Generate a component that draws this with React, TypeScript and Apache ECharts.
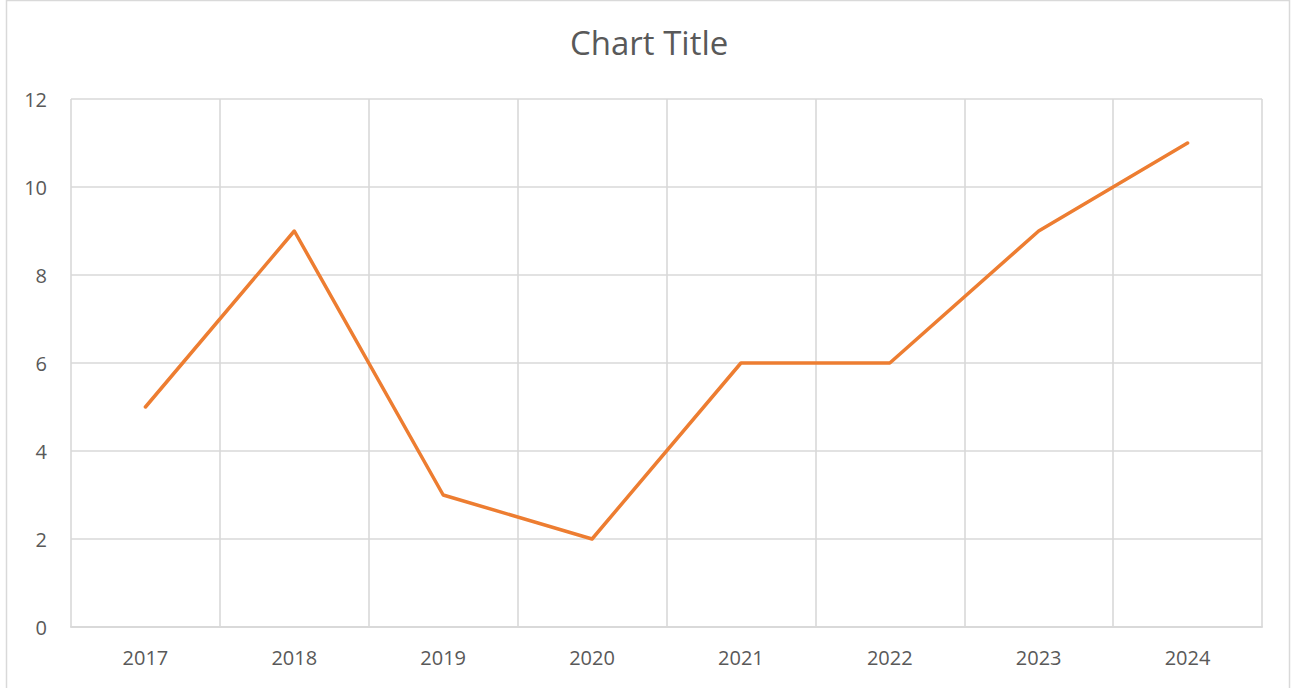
import React, { useEffect, useRef } from "react";
import * as echarts from "echarts";

const categories = ["2017", "2018", "2019", "2020", "2021", "2022", "2023", "2024"];
const values = [5, 9, 3, 2, 6, 6, 9, 11];
const yTicks = { min: 0, max: 12, interval: 2 };

export default function App() {
  const ref = useRef<HTMLDivElement>(null);
  useEffect(() => {
    const chart = echarts.init(ref.current!, null, { renderer: "svg" });
    const font = "'Open Sans', 'Noto Sans', sans-serif";
    const gridColor = "#D9D9D9";
    chart.setOption({
      animation: false,
      backgroundColor: "#ffffff",
      title: {
        text: "Chart Title",
        left: 565,
        top: 21,
        textStyle: { color: "#595959", fontSize: 33, fontWeight: "normal", fontFamily: font },
      },
      graphic: [
        {
          type: "rect",
          shape: { x: 6.5, y: 0.5, width: 1283, height: 720 },
          style: { fill: "none", stroke: "#D9D9D9", lineWidth: 1.5 },
          silent: true,
        },
      ],
      grid: { left: 71, right: 29, top: 99, bottom: 61, containLabel: false },
      xAxis: {
        type: "category",
        data: categories,
        boundaryGap: true,
        axisLine: { show: true, lineStyle: { color: gridColor, width: 2 } },
        axisTick: { show: false },
        splitLine: { show: true, interval: 0, lineStyle: { color: gridColor, width: 1.6 } },
        axisLabel: { color: "#595959", fontSize: 20, fontFamily: font, margin: 20, interval: 0 },
      },
      yAxis: {
        type: "value",
        min: yTicks.min,
        max: yTicks.max,
        interval: yTicks.interval,
        axisLine: { show: false },
        axisTick: { show: false },
        splitLine: { show: true, lineStyle: { color: gridColor, width: 1.6 } },
        axisLabel: { color: "#595959", fontSize: 20, fontFamily: font, margin: 24 },
      },
      series: [
        {
          type: "line",
          data: values,
          symbol: "none",
          lineStyle: { color: "#ED7D31", width: 3.5, cap: "round", join: "round" },
          itemStyle: { color: "#ED7D31" },
        },
      ],
    });
    return () => chart.dispose();
  }, []);
  return (
    <div
      ref={ref}
      style={{ position: "fixed", left: 0, top: 0, width: 1291, height: 688 }}
    />
  );
}
